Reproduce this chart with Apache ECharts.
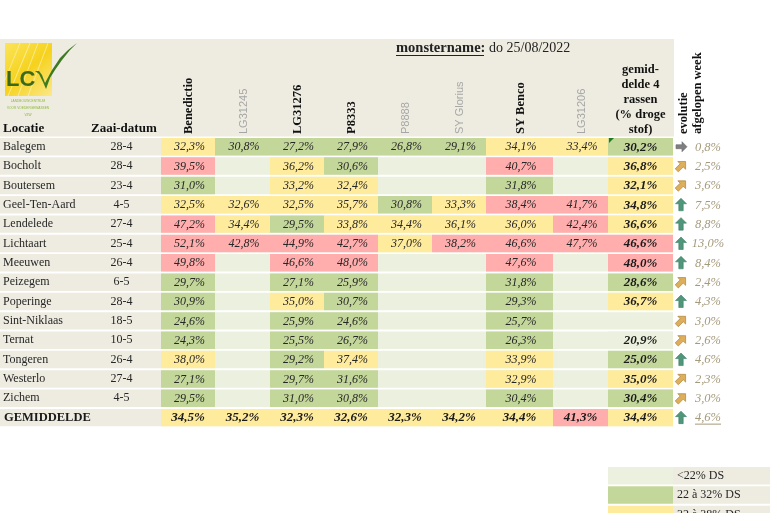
<!DOCTYPE html>
<html>
<head>
<meta charset="utf-8">
<script src="https://cdn.jsdelivr.net/npm/echarts@6/dist/echarts.min.js"></script>
<style>html,body{margin:0;padding:0;background:#fff}#c{width:770px;height:513px}</style>
</head>
<body>
<div id="c"></div>
<script>
// ---------------- DATA ----------------
const locations = ['Balegem','Bocholt','Boutersem','Geel-Ten-Aard','Lendelede','Lichtaart','Meeuwen','Peizegem','Poperinge','Sint-Niklaas','Ternat','Tongeren','Westerlo','Zichem'];
const sowingDates = ['28-4','28-4','23-4','4-5','27-4','25-4','26-4','6-5','28-4','18-5','10-5','26-4','27-4','4-5'];
const varieties = ['Benedictio','LG31245','LG31276','P8333','P8888','SY Glorius','SY Benco','LG31206'];
const varietyInAverage = [true,false,true,true,false,false,true,false];

const benedictio = [32.3,39.5,31.0,32.5,47.2,52.1,49.8,29.7,30.9,24.6,24.3,38.0,27.1,29.5];
const lg31245    = [30.8,null,null,32.6,34.4,42.8,null,null,null,null,null,null,null,null];
const lg31276    = [27.2,36.2,33.2,32.5,29.5,44.9,46.6,27.1,35.0,25.9,25.5,29.2,29.7,31.0];
const p8333      = [27.9,30.6,32.4,35.7,33.8,42.7,48.0,25.9,30.7,24.6,26.7,37.4,31.6,30.8];
const p8888      = [26.8,null,null,30.8,34.4,37.0,null,null,null,null,null,null,null,null];
const syGlorius  = [29.1,null,null,33.3,36.1,38.2,null,null,null,null,null,null,null,null];
const syBenco    = [34.1,40.7,31.8,38.4,36.0,46.6,47.6,31.8,29.3,25.7,26.3,33.9,32.9,30.4];
const lg31206    = [33.4,null,null,41.7,42.4,47.7,null,null,null,null,null,null,null,null];
const averageFourVarieties = [30.2,36.8,32.1,34.8,36.6,46.6,48.0,28.6,36.7,null,20.9,25.0,35.0,30.4];
const weeklyChange = [0.8,2.5,3.6,7.5,8.8,13.0,8.4,2.4,4.3,3.0,2.6,4.6,2.3,3.0];

const totalLabel = 'GEMIDDELDE';
const overallAverages = [34.5,35.2,32.3,32.6,32.3,34.2,34.4,41.3];
const overallAverageFour = 34.4;
const overallWeeklyChange = 4.6;

const legendLabels = ['<22% DS','22 à 32% DS','32 à 38% DS','>38% DS'];
const legendClasses = ['light','green','yellow','red'];

const varietySeries = [benedictio, lg31245, lg31276, p8333, p8888, syGlorius, syBenco, lg31206];

// ---------------- LAYOUT / STYLE ----------------
const COL_EDGES = [0,82,161,215,270,324,378,432,486,553,608,673,770];
const ROWS_TOTAL = 19;
const ROW_PX = 19.35;
const GAP = 1.9;
const SERIF = '"Liberation Serif","DejaVu Serif",serif';
const SANS = '"Liberation Sans","DejaVu Sans",sans-serif';
const C = {beige:'#EEECE1', light:'#EBF1DE', green:'#C4D79B', yellow:'#FFEB9C', red:'#FFADAD',
           text:'#262626', evo:'#A69A7C', greyLabel:'#A6A6A6'};

function classFor(v){
  if (v == null || v < 22) return 'light';
  if (v < 32) return 'green';
  if (v <= 38) return 'yellow';
  return 'red';
}

function cellBox(api, c0, c1, row){
  const p0 = api.coord([COL_EDGES[c0], row]);
  const p1 = api.coord([COL_EDGES[c1], row + 1]);
  return {x:p0[0], y:p0[1], w:p1[0]-p0[0], h:p1[1]-p0[1]-GAP};
}

// ---------------- SERIES DATA ----------------
const rowFrameData = locations.map((name, i) => [i, i]);
rowFrameData.push([locations.length, -1]);

const cellData = [];
varietySeries.forEach((arr, j) => arr.forEach((v, i) => { if (v != null) cellData.push([j + 2, i, v, 0]); }));
averageFourVarieties.forEach((v, i) => { if (v != null) cellData.push([10, i, v, 1]); });
overallAverages.forEach((v, j) => cellData.push([j + 2, locations.length, v, 1]));
cellData.push([10, locations.length, overallAverageFour, 1]);

const evoData = weeklyChange.map((v, i) => [i, v, 0]);
evoData.push([locations.length, overallWeeklyChange, 1]);

const headerData = varieties.map((name, j) => [j + 2, j]);
const legendData = legendLabels.map((t, k) => [17 + k, k]);

const fmt = v => v.toFixed(1).replace('.', ',') + '%';

// ---------------- RENDERERS ----------------
function renderRowFrame(params, api){
  const row = api.value(0), idx = api.value(1);
  const lab = cellBox(api, 0, 2, row);
  const val = cellBox(api, 2, 11, row);
  const cy = lab.y + lab.h / 2;
  const children = [
    {type:'rect', shape:{x:lab.x, y:lab.y, width:lab.w, height:lab.h}, style:{fill:C.beige}},
    {type:'rect', shape:{x:val.x, y:val.y, width:val.w, height:val.h}, style:{fill:C.light}}
  ];
  if (idx >= 0) {
    const d = cellBox(api, 1, 2, row);
    children.push({type:'text', x:lab.x + 3, y:cy, style:{text:locations[idx], fill:C.text, fontFamily:SERIF, fontSize:12, align:'left', verticalAlign:'middle'}});
    children.push({type:'text', x:d.x + d.w / 2, y:cy, style:{text:sowingDates[idx], fill:C.text, fontFamily:SERIF, fontSize:12, align:'center', verticalAlign:'middle'}});
  } else {
    children.push({type:'text', x:lab.x + 4, y:cy, style:{text:totalLabel, fill:'#1a1a1a', fontFamily:SERIF, fontSize:12.5, fontWeight:'bold', align:'left', verticalAlign:'middle'}});
  }
  return {type:'group', children};
}

function renderCell(params, api){
  const col = api.value(0), row = api.value(1), v = api.value(2), bold = api.value(3) === 1;
  const b = cellBox(api, col, col + 1, row);
  const children = [
    {type:'rect', shape:{x:b.x, y:b.y, width:b.w, height:b.h}, style:{fill:C[classFor(v)]}},
    {type:'text', x:b.x + b.w / 2 + (bold ? 0 : 1.5), y:b.y + b.h / 2 + 0.5,
     style:{text:fmt(v), fill:bold ? '#1a1a1a' : C.text, fontFamily:SERIF, fontSize:bold ? 13 : 12,
            fontStyle:'italic', fontWeight:bold ? 'bold' : 'normal', align:'center', verticalAlign:'middle'}}
  ];
  if (col === 10 && row === 0) {
    children.push({type:'polygon', shape:{points:[[b.x + 1, b.y], [b.x + 6, b.y], [b.x + 1, b.y + 5]]}, style:{fill:'#1E7B1E'}});
  }
  return {type:'group', children};
}

function arrowFor(v){
  if (v < 1) return {pts:[[6,0],[1,-5],[1,-2],[-5,-2],[-5,2],[1,2],[1,5]], rot:0, fill:'#7F7F7F', stroke:'#6a6a6a'};
  if (v < 4) return {pts:[[0,-6.5],[5.5,-1],[2.2,-1],[2.2,6],[-2.2,6],[-2.2,-1],[-5.5,-1]], rot:-Math.PI/4, fill:'#DDAE5C', stroke:'#A67C2E'};
  return {pts:[[0,-6.5],[5.5,-1],[2.2,-1],[2.2,6],[-2.2,6],[-2.2,-1],[-5.5,-1]], rot:0, fill:'#50967A', stroke:'#3E7E64'};
}

function renderEvo(params, api){
  const row = api.value(0), v = api.value(1), under = api.value(2) === 1;
  const b = cellBox(api, 11, 12, row);
  const cy = b.y + b.h / 2;
  const a = arrowFor(v);
  const tx = b.x + 35;
  const children = [
    {type:'polygon', x:b.x + 8, y:cy, rotation:a.rot, shape:{points:a.pts}, style:{fill:a.fill, stroke:a.stroke, lineWidth:0.6}},
    {type:'text', x:tx, y:cy + 0.5, style:{text:fmt(v), fill:C.evo, fontFamily:SERIF, fontSize:12.5, fontStyle:'italic', align:'center', verticalAlign:'middle'}}
  ];
  if (under) {
    children.push({type:'line', shape:{x1:tx - 13, y1:cy + 6.5, x2:tx + 13, y2:cy + 6.5}, style:{stroke:C.evo, lineWidth:1}});
  }
  return {type:'group', children};
}

function renderHeader(params, api){
  const col = api.value(0), j = api.value(1);
  const b = cellBox(api, col, col + 1, 0);
  const strong = varietyInAverage[j];
  return {type:'text', x:b.x + b.w / 2 + 1, y:b.y - 4, rotation:Math.PI / 2,
    style:{text:varieties[j], fill:strong ? '#111' : C.greyLabel, fontFamily:strong ? SERIF : SANS,
           fontSize:strong ? 12.5 : 11, fontWeight:strong ? 'bold' : 'normal', align:'left', verticalAlign:'middle'}};
}

function renderLegend(params, api){
  const row = api.value(0), k = api.value(1);
  const sw = cellBox(api, 10, 11, row);
  const tc = cellBox(api, 11, 12, row);
  return {type:'group', children:[
    {type:'rect', shape:{x:sw.x, y:sw.y, width:sw.w, height:sw.h}, style:{fill:C[legendClasses[k]]}},
    {type:'rect', shape:{x:tc.x, y:tc.y, width:tc.w, height:tc.h}, style:{fill:C.beige}},
    {type:'text', x:tc.x + 4, y:tc.y + tc.h / 2, style:{text:legendLabels[k], fill:C.text, fontFamily:SERIF, fontSize:12, align:'left', verticalAlign:'middle'}}
  ]};
}

// ---------------- HEADER GRAPHICS ----------------
const logo = [
  {type:'rect', shape:{x:5, y:43, width:47, height:53}, style:{fill:new echarts.graphic.LinearGradient(0,0,1,1,[{offset:0,color:'#FBE45A'},{offset:0.5,color:'#F6D21C'},{offset:1,color:'#FBE88C'}])}},
  {type:'polyline', shape:{points:[[8,96],[30,43]]}, style:{stroke:'rgba(255,255,255,0.5)', lineWidth:1}},
  {type:'polyline', shape:{points:[[18,96],[38,43]]}, style:{stroke:'rgba(255,255,255,0.45)', lineWidth:1}},
  {type:'polyline', shape:{points:[[28,96],[48,43]]}, style:{stroke:'rgba(255,255,255,0.45)', lineWidth:1}},
  {type:'polyline', shape:{points:[[5,80],[20,43]]}, style:{stroke:'rgba(255,255,255,0.4)', lineWidth:1}},
  {type:'text', x:6, y:80, style:{text:'LC', fill:'#3B6A1E', font:'bold 22px ' + SANS, align:'left', verticalAlign:'middle'}},
  {type:'polygon', shape:{points:[[35,71],[39,71],[42,75],[45,83],[52,70],[60,58],[68,50],[77,43],[70,50],[62,60],[55,70],[50,78],[46,89],[43,82],[39,74]]}, style:{fill:'#3E7A22'}},
  {type:'text', x:28, y:101, scaleX:0.8, style:{text:'LANDBOUWCENTRUM', fill:'#8DB83A', font:'4px ' + SANS, align:'center', verticalAlign:'middle'}},
  {type:'text', x:28, y:108, scaleX:0.8, style:{text:'VOOR VOEDERGEWASSEN', fill:'#8DB83A', font:'4px ' + SANS, align:'center', verticalAlign:'middle'}},
  {type:'text', x:28, y:115, scaleX:0.8, style:{text:'VZW', fill:'#8DB83A', font:'4px ' + SANS, align:'center', verticalAlign:'middle'}}
];

const headerGraphics = [
  {type:'rect', z:-10, shape:{x:0, y:39, width:674, height:97.6}, style:{fill:C.beige}},
  ...logo,
  {type:'text', x:396, y:48, style:{text:'monstername:', fill:'#222', font:'bold 14.5px ' + SERIF, align:'left', verticalAlign:'middle'}},
  {type:'line', shape:{x1:396, y1:55.5, x2:484, y2:55.5}, style:{stroke:'#222', lineWidth:1}},
  {type:'text', x:489, y:48, style:{text:'do 25/08/2022', fill:'#222', font:'14px ' + SERIF, align:'left', verticalAlign:'middle'}},
  {type:'text', x:3, y:129, style:{text:'Locatie', fill:'#111', font:'bold 13px ' + SERIF, align:'left', verticalAlign:'middle'}},
  {type:'text', x:91, y:129, style:{text:'Zaai-datum', fill:'#111', font:'bold 13px ' + SERIF, align:'left', verticalAlign:'middle'}},
  {type:'text', x:640.5, y:137, style:{text:'gemid-\ndelde 4\nrassen\n(% droge\nstof)', fill:'#111', font:'bold 12.5px ' + SERIF, lineHeight:15, align:'center', verticalAlign:'bottom'}},
  {type:'text', x:684, y:134, rotation:Math.PI / 2, style:{text:'evolutie', fill:'#111', font:'bold 12.5px ' + SERIF, align:'left', verticalAlign:'middle'}},
  {type:'text', x:698, y:134, rotation:Math.PI / 2, style:{text:'afgelopen week', fill:'#111', font:'bold 12.5px ' + SERIF, align:'left', verticalAlign:'middle'}}
];

// ---------------- CHART ----------------
const chart = echarts.init(document.getElementById('c'), null, {renderer:'canvas'});
chart.setOption({
  animation:false,
  backgroundColor:'#ffffff',
  grid:{left:0, top:138, width:770, height:ROWS_TOTAL * ROW_PX, containLabel:false},
  xAxis:{type:'value', min:0, max:770, show:false},
  yAxis:{type:'value', min:0, max:ROWS_TOTAL, inverse:true, show:false},
  graphic:headerGraphics,
  series:[
    {type:'custom', name:'rows', renderItem:renderRowFrame, data:rowFrameData, encode:{x:-1, y:0}, silent:true, clip:false},
    {type:'custom', name:'cells', renderItem:renderCell, data:cellData, encode:{x:-1, y:1}, silent:true, clip:false},
    {type:'custom', name:'evolution', renderItem:renderEvo, data:evoData, encode:{x:-1, y:0}, silent:true, clip:false},
    {type:'custom', name:'varieties', renderItem:renderHeader, data:headerData, encode:{x:-1, y:-1}, silent:true, clip:false},
    {type:'custom', name:'legend', renderItem:renderLegend, data:legendData, encode:{x:-1, y:0}, silent:true, clip:false}
  ]
});
</script>
</body>
</html>
